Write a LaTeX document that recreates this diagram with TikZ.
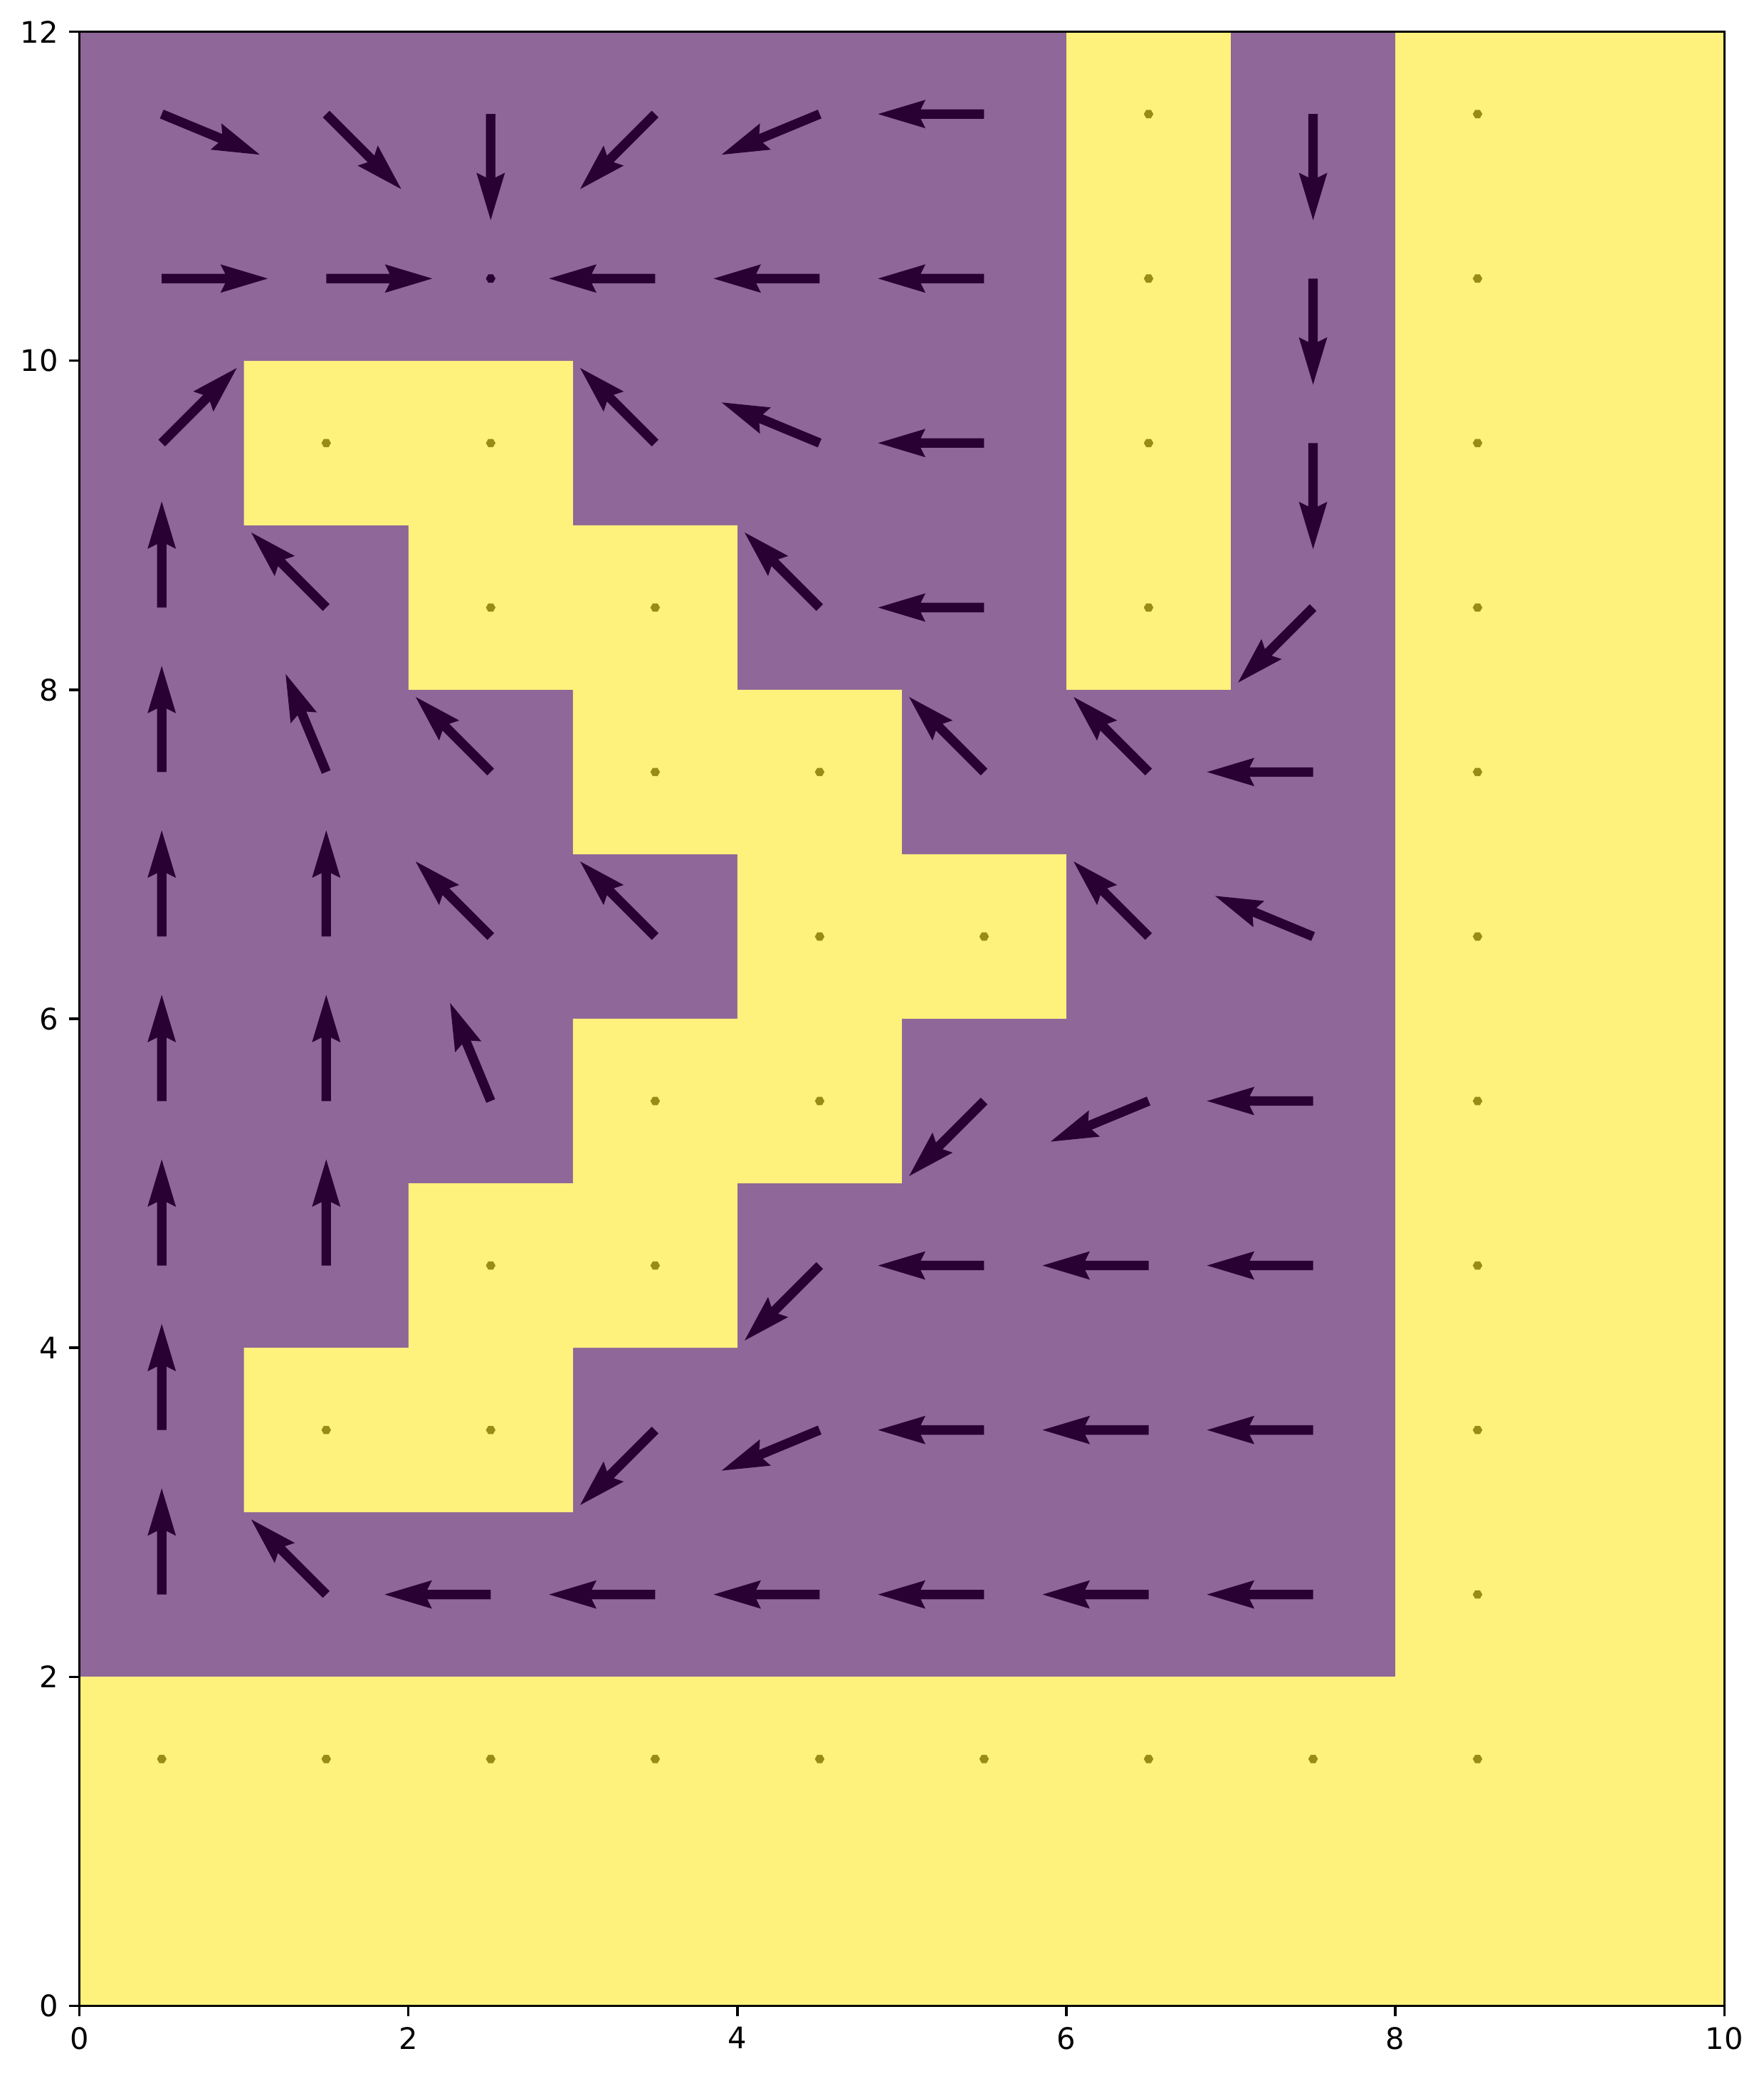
\documentclass[tikz,border=0pt]{standalone}
\usepackage{fontspec}
\setmainfont{DejaVu Sans}
\definecolor{meshpurple}{RGB}{143,103,152}
\definecolor{meshyellow}{RGB}{254,241,124}
\definecolor{arrowcol}{RGB}{41,1,50}
\definecolor{dotcol}{RGB}{152,139,22}
\tikzset{
  quiverarrow/.style={fill=arrowcol},
  zerodot/.style={fill=dotcol},
  spine/.style={line width=0.8bp, black},
  tickmark/.style={line width=0.8bp, black},
  ticklabel/.style={inner sep=0pt, font=\fontsize{10bp}{12bp}\selectfont}
}
\begin{document}
\begin{tikzpicture}[x=1.9562cm,y=1.9562cm]
\useasboundingbox (-0.4834,-0.4272) rectangle (10.2415,12.1935);
% mesh
\fill[meshpurple] (0,0) rectangle (10,12);
\fill[meshyellow] (0,0) -- (10,0) -- (10,12) -- (8,12) -- (8,2) -- (0,2) -- cycle;
\fill[meshyellow] (6,8) rectangle (7,12);
\fill[meshyellow] (1,10) -- (3,10) -- (3,9) -- (4,9) -- (4,8) -- (5,8) -- (5,7) -- (6,7) -- (6,6) -- (5,6) -- (5,5) -- (4,5) -- (4,4) -- (3,4) -- (3,3) -- (1,3) -- (1,4) -- (2,4) -- (2,5) -- (3,5) -- (3,6) -- (4,6) -- (4,7) -- (3,7) -- (3,8) -- (2,8) -- (2,9) -- (1,9) -- cycle;
% quiver arrows
\foreach \qx/\qy/\qa in {
 0.5/11.5/-22.5, 1.5/11.5/-45, 2.5/11.5/-90, 3.5/11.5/-135, 4.5/11.5/-157.5, 5.5/11.5/180, 7.5/11.5/-90,
 0.5/10.5/0, 1.5/10.5/0, 3.5/10.5/180, 4.5/10.5/180, 5.5/10.5/180, 7.5/10.5/-90,
 0.5/9.5/45, 3.5/9.5/135, 4.5/9.5/157.5, 5.5/9.5/180, 7.5/9.5/-90,
 0.5/8.5/90, 1.5/8.5/135, 4.5/8.5/135, 5.5/8.5/180, 7.5/8.5/-135,
 0.5/7.5/90, 1.5/7.5/112.5, 2.5/7.5/135, 5.5/7.5/135, 6.5/7.5/135, 7.5/7.5/180,
 0.5/6.5/90, 1.5/6.5/90, 2.5/6.5/135, 3.5/6.5/135, 6.5/6.5/135, 7.5/6.5/157.5,
 0.5/5.5/90, 1.5/5.5/90, 2.5/5.5/112.5, 5.5/5.5/-135, 6.5/5.5/-157.5, 7.5/5.5/180,
 0.5/4.5/90, 1.5/4.5/90, 4.5/4.5/-135, 5.5/4.5/180, 6.5/4.5/180, 7.5/4.5/180,
 0.5/3.5/90, 3.5/3.5/-135, 4.5/3.5/-157.5, 5.5/3.5/180, 6.5/3.5/180, 7.5/3.5/180,
 0.5/2.5/90, 1.5/2.5/135, 2.5/2.5/180, 3.5/2.5/180, 4.5/2.5/180, 5.5/2.5/180, 6.5/2.5/180, 7.5/2.5/180}
{
  \fill[quiverarrow, shift={(\qx,\qy)}, rotate=\qa]
    (0,-0.0288) -- (0.3857,-0.0288) -- (0.3569,-0.0864) -- (0.6449,0)
    -- (0.3569,0.0864) -- (0.3857,0.0288) -- (0,0.0288) -- cycle;
}
% zero-length vectors (dots)
\foreach \qx/\qy in {
 0.5/1.5, 1.5/1.5, 2.5/1.5, 3.5/1.5, 4.5/1.5, 5.5/1.5, 6.5/1.5, 7.5/1.5, 8.5/1.5,
 8.5/2.5, 8.5/3.5, 8.5/4.5, 8.5/5.5, 8.5/6.5, 8.5/7.5, 8.5/8.5, 8.5/9.5, 8.5/10.5, 8.5/11.5,
 6.5/8.5, 6.5/9.5, 6.5/10.5, 6.5/11.5,
 1.5/9.5, 2.5/9.5, 2.5/8.5, 3.5/8.5, 3.5/7.5, 4.5/7.5, 4.5/6.5, 5.5/6.5,
 3.5/5.5, 4.5/5.5, 2.5/4.5, 3.5/4.5, 1.5/3.5, 2.5/3.5}
{
  \fill[zerodot, shift={(\qx,\qy)}] (0:0.029) -- (60:0.029) -- (120:0.029) -- (180:0.029) -- (240:0.029) -- (300:0.029) -- cycle;
}
\fill[quiverarrow, shift={(2.5,10.5)}] (0:0.029) -- (60:0.029) -- (120:0.029) -- (180:0.029) -- (240:0.029) -- (300:0.029) -- cycle;
% spines
\draw[spine] (0,0) rectangle (10,12);
% ticks
\foreach \t in {0,2,4,6,8,10} {
  \draw[tickmark] (\t,0) -- (\t,-0.0632);
  \node[ticklabel, anchor=north] (xt\t) at (\t,-0.1264) {\t};
}
\foreach \t in {0,2,4,6,8,10,12} {
  \draw[tickmark] (0,\t) -- (-0.0632,\t);
  \node[ticklabel, anchor=east] (yt\t) at (-0.1264,\t) {\t};
}
\end{tikzpicture}
\end{document}
